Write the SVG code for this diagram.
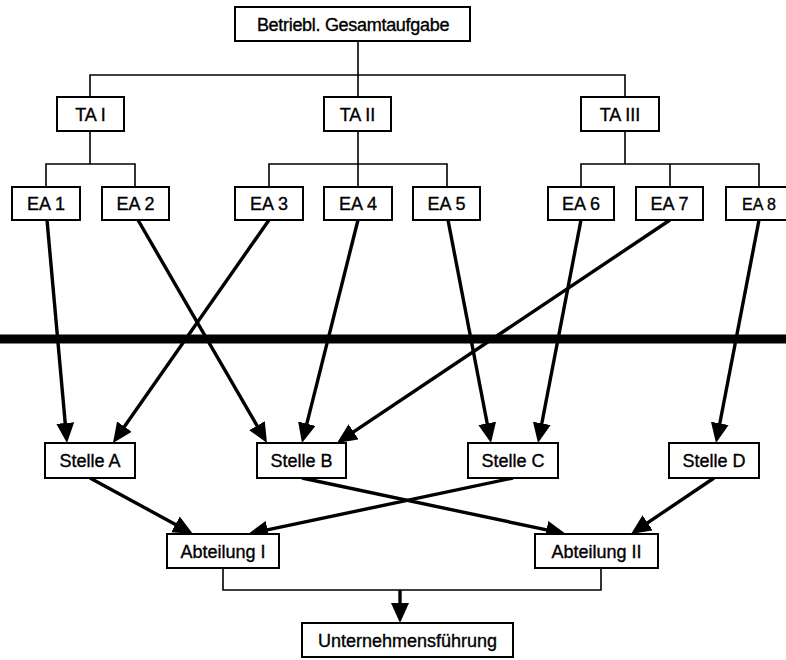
<svg xmlns="http://www.w3.org/2000/svg" width="786" height="660" viewBox="0 0 786 660">
<style>
.box{fill:#fff;stroke:#000;stroke-width:2}
.lbl{font-family:"Liberation Sans",Arial,sans-serif;font-size:18px;fill:#000;stroke:#000;stroke-width:0.35;text-anchor:middle}
.tree{fill:none;stroke:#000;stroke-width:1.6}
.arr{fill:none;stroke:#000;stroke-width:3.4;marker-end:url(#ah)}
</style>
<defs>
<marker id="ah" markerUnits="userSpaceOnUse" markerWidth="20" markerHeight="18" refX="10" refY="9" orient="auto" viewBox="0 0 20 18">
<path d="M0,0 L20,9 L0,18 z" fill="#000"/>
</marker>
</defs>
<rect x="0" y="0" width="786" height="660" fill="#fff"/>
<g id="connectors">
<path class="tree" d="M358,41V75M90,97V75H625V97M358,75V97"/>
<path class="tree" d="M90,131V164M46,187V164H135V187"/>
<path class="tree" d="M358,131V164M269,187V164H447V187M358,164V187"/>
<path class="tree" d="M625,131V164M581,187V164H759V187M670,164V187"/>
<path class="tree" d="M223,568V590H601V568"/>
<line x1="0" y1="339" x2="786" y2="339" stroke="#000" stroke-width="9"/>
<line class="arr" x1="47" y1="220" x2="66.1" y2="433"/>
<line class="arr" x1="269" y1="220" x2="118.7" y2="434.8"/>
<line class="arr" x1="138" y1="220" x2="262" y2="434.3"/>
<line class="arr" x1="358" y1="220" x2="304.4" y2="433.3"/>
<line class="arr" x1="670" y1="220" x2="345.3" y2="437.4"/>
<line class="arr" x1="448" y1="220" x2="489.1" y2="433.2"/>
<line class="arr" x1="581" y1="220" x2="539.9" y2="433.2"/>
<line class="arr" x1="759" y1="220" x2="717.9" y2="433.2"/>
<line class="arr" x1="90" y1="478" x2="184.2" y2="529.2"/>
<line class="arr" x1="513" y1="478" x2="257.8" y2="531.9"/>
<line class="arr" x1="302" y1="478" x2="556.2" y2="531.9"/>
<line class="arr" x1="714" y1="478" x2="639.3" y2="528.4"/>
<line class="arr" x1="400" y1="590" x2="400" y2="613"/>
</g>
<g id="gesamt"><rect class="box" x="235" y="7" width="235" height="34"/><text class="lbl" x="353" y="30.5" style="letter-spacing:-0.3px">Betriebl. Gesamtaufgabe</text></g>
<g id="ta1"><rect class="box" x="57" y="97" width="67" height="34"/><text class="lbl" x="90.5" y="120.5">TA I</text></g>
<g id="ta2"><rect class="box" x="324" y="97" width="67" height="34"/><text class="lbl" x="357.5" y="120.5">TA II</text></g>
<g id="ta3"><rect class="box" x="581" y="97" width="78" height="34"/><text class="lbl" x="620" y="120.5">TA III</text></g>
<g id="ea1"><rect class="box" x="12" y="187" width="68" height="33"/><text class="lbl" x="46" y="210">EA 1</text></g>
<g id="ea2"><rect class="box" x="102" y="187" width="67" height="33"/><text class="lbl" x="135.5" y="210">EA 2</text></g>
<g id="ea3"><rect class="box" x="235" y="187" width="68" height="33"/><text class="lbl" x="269" y="210">EA 3</text></g>
<g id="ea4"><rect class="box" x="324" y="187" width="68" height="33"/><text class="lbl" x="358" y="210">EA 4</text></g>
<g id="ea5"><rect class="box" x="413" y="187" width="67" height="33"/><text class="lbl" x="446.5" y="210">EA 5</text></g>
<g id="ea6"><rect class="box" x="548" y="187" width="66" height="33"/><text class="lbl" x="581" y="210">EA 6</text></g>
<g id="ea7"><rect class="box" x="636" y="187" width="67" height="33"/><text class="lbl" x="669.5" y="210">EA 7</text></g>
<g id="ea8"><rect class="box" x="726" y="187" width="66" height="33"/><text class="lbl" x="759" y="209.5" style="font-size:16px">EA 8</text></g>
<g id="stelleA"><rect class="box" x="45" y="443" width="90" height="35"/><text class="lbl" x="90" y="467">Stelle A</text></g>
<g id="stelleB"><rect class="box" x="257" y="443" width="89" height="35"/><text class="lbl" x="301.5" y="467">Stelle B</text></g>
<g id="stelleC"><rect class="box" x="468" y="443" width="90" height="35"/><text class="lbl" x="513" y="467">Stelle C</text></g>
<g id="stelleD"><rect class="box" x="669" y="443" width="90" height="35"/><text class="lbl" x="714" y="467">Stelle D</text></g>
<g id="abt1"><rect class="box" x="167" y="534" width="112" height="34"/><text class="lbl" x="223" y="557.5">Abteilung I</text></g>
<g id="abt2"><rect class="box" x="535" y="534" width="123" height="34"/><text class="lbl" x="596.5" y="557.5">Abteilung II</text></g>
<g id="ufuehrung"><rect class="box" x="302" y="623" width="211" height="34"/><text class="lbl" x="407.5" y="646.5">Unternehmensführung</text></g>
</svg>
